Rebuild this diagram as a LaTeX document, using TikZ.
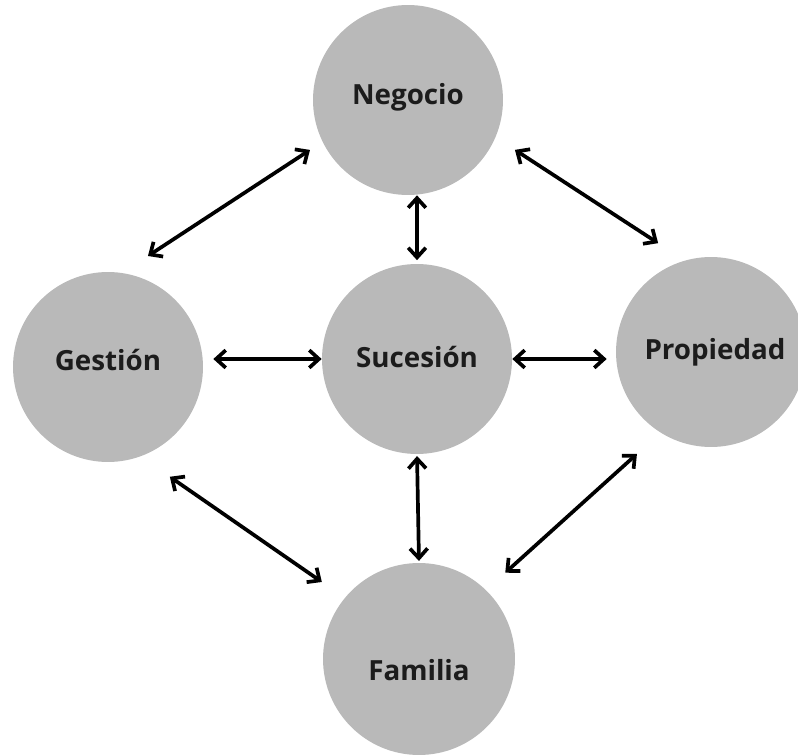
\documentclass[tikz,border=0pt]{standalone}
\usepackage{fontspec}
\setmainfont{Open Sans}
\usepackage{tikz}
\usetikzlibrary{arrows.meta,positioning,calc}
\definecolor{CircleGray}{RGB}{185,185,185}
\definecolor{TextDark}{RGB}{28,28,28}

\begin{document}
\begin{tikzpicture}[
  x=0.02cm, y=0.02cm,
  ball/.style={
    circle, fill=CircleGray, draw=none, minimum size=3.8cm, inner sep=0pt
  },
  balltext/.style={
    font=\fontsize{15.8}{18}\selectfont\bfseries, text=TextDark
  },
  arr/.style={{Straight Barb[length=5.5pt,width=10pt]}-{Straight Barb[length=5.5pt,width=10pt]}, line width=2.1pt, black}
]

% --- Frame (page size)
\useasboundingbox (0,0) rectangle (798,755);
\clip (0,0) rectangle (798,755);

% --- Circles
\node[ball, label={[balltext, yshift=0.06cm]center:Negocio}]   (neg) at (408,655) {};
\node[ball, label={[balltext, yshift=0.14cm]center:Gestión}]   (ges) at (108,388) {};
\node[ball, label={[balltext, yshift=0.04cm]center:Sucesión}]  (suc) at (417,396) {};
\node[ball, label={[balltext, xshift=0.08cm]center:Propiedad}] (pro) at (711,403) {};
\node[ball, minimum size=3.84cm, label={[balltext, yshift=-0.22cm]center:Familia}] (fam) at (419,96) {};

% --- Links
\draw[arr] ([shift={(70.2:118)}]ges.center)  -- ([shift={(207:110)}]neg.center);
\draw[arr] ([shift={(-25:118)}]neg.center)   -- ([shift={(115.9:121)}]pro.center);
\draw[arr, shorten >=2pt] (suc.north |- neg.south) -- (suc.north);
\draw[arr, shorten <=0.2cm] (ges.east |- suc.west) -- (suc.west);
\draw[arr, shorten >=0.18cm] (suc.east) -- (suc.east -| pro.west);
\draw[arr] ([shift={(-60.6:126)}]ges.center) -- ([shift={(141.6:124)}]fam.center);
\draw[arr, shorten <=1pt, shorten >=1pt] (suc.south) -- (fam.north);
\draw[arr] ([shift={(234:126)}]pro.center)   -- ([shift={(45:122)}]fam.center);

\end{tikzpicture}
\end{document}
